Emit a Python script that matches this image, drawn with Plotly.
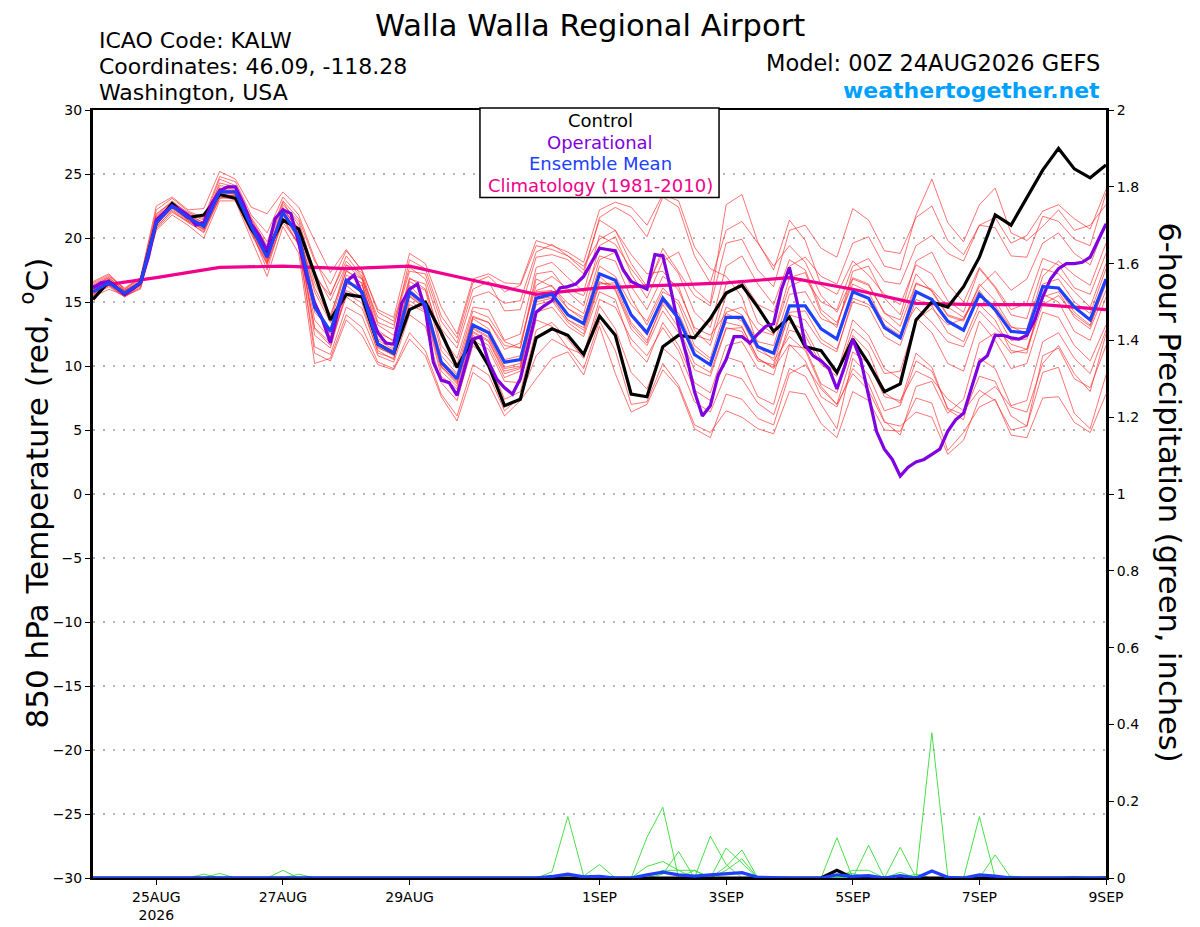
import pandas as pd
import plotly.graph_objects as go

# 예보 시각 (00Z 24AUG2026 GEFS, 6시간 간격 / 운영모델 3시간 간격)
run_start = "2026-08-24 00:00"
times = pd.date_range(run_start, periods=65, freq="6h")
times_op = pd.date_range(run_start, periods=129, freq="3h")
clim_days = pd.date_range(run_start, periods=17, freq="D")

tick_days = ["2026-08-25", "2026-08-27", "2026-08-29", "2026-09-01",
             "2026-09-03", "2026-09-05", "2026-09-07", "2026-09-09"]
tick_text = ["25AUG<br>2026", "27AUG", "29AUG", "1SEP", "3SEP", "5SEP", "7SEP", "9SEP"]

# 850 hPa 기온 (°C)
control = [15.2, 16.6, 15.6, 16.5, 21.2, 22.7, 21.6, 21.8, 23.4, 23.1, 20.7, 19.0, 21.4, 20.7, 17.2, 13.6,
           15.6, 15.4, 11.7, 11.0, 14.4, 15.0, 12.6, 9.9, 12.1, 10.0, 6.9, 7.4, 12.2, 12.9, 12.4, 10.9,
           13.9, 12.4, 7.8, 7.6, 11.5, 12.4, 12.2, 13.7, 15.7, 16.3, 14.6, 12.7, 13.8, 11.5, 11.2, 9.5,
           12.1, 10.2, 8.0, 8.6, 13.6, 15.0, 14.6, 16.2, 18.5, 21.8, 21.0, 23.1, 25.3, 27.0, 25.4, 24.7,
           25.7]

ens_mean = [15.8, 16.5, 15.7, 16.5, 21.2, 22.5, 21.6, 20.9, 23.6, 23.6, 20.9, 18.5, 22.0, 20.1, 14.6, 12.7,
            16.7, 15.8, 11.7, 11.0, 15.8, 14.8, 10.3, 9.0, 13.2, 12.6, 10.3, 10.5, 15.3, 15.6, 14.0, 13.3,
            17.2, 16.7, 14.0, 12.6, 15.3, 13.7, 10.9, 10.1, 13.8, 13.8, 11.5, 11.0, 14.7, 14.7, 12.9, 12.1,
            15.8, 15.3, 13.0, 12.2, 15.8, 15.2, 13.5, 12.8, 15.6, 14.4, 12.7, 12.6, 16.2, 16.1, 14.6, 13.6,
            16.8]

operational = [16.1, 16.5, 16.6, 16.1, 15.6, 16.0, 16.5, 18.5, 21.4, 22.0, 22.5, 22.2, 21.8, 21.0, 21.2, 22.7,
               23.7, 24.0, 24.0, 22.7, 21.1, 20.2, 19.0, 21.5, 22.2, 21.9, 19.6, 17.0, 14.9, 13.6, 11.8, 14.4,
               16.6, 17.1, 15.7, 14.2, 12.6, 11.8, 11.7, 14.9, 16.0, 16.4, 14.4, 10.3, 8.9, 8.7, 7.7, 10.0,
               12.1, 12.3, 10.3, 9.0, 8.3, 7.8, 9.0, 11.6, 14.2, 14.7, 15.1, 16.1, 16.2, 16.4, 17.0, 18.1,
               19.2, 19.1, 19.0, 17.5, 16.6, 16.3, 16.0, 18.7, 18.6, 16.0, 13.1, 10.8, 8.0, 6.1, 6.9, 9.3,
               10.5, 12.3, 12.3, 11.8, 12.5, 13.1, 13.3, 16.0, 17.7, 14.9, 11.6, 10.8, 10.4, 9.8, 8.2, 10.0,
               12.1, 10.5, 7.6, 4.9, 3.5, 2.7, 1.4, 2.1, 2.5, 2.7, 3.1, 3.5, 4.9, 5.8, 6.3, 8.4,
               10.3, 10.8, 12.4, 12.4, 12.2, 12.1, 12.4, 13.6, 15.4, 16.8, 17.6, 18.0, 18.0, 18.1, 18.5, 19.8,
               21.1]

climatology = [16.2, 16.9, 17.7, 17.8, 17.6, 17.8, 16.7, 15.6, 16.1, 16.3, 16.5, 16.9, 16.0, 14.9, 14.8, 14.8, 14.4]

# 앙상블 멤버 (가는 빨간 선)
m01 = [16.3, 16.9, 15.9, 16.7, 21.8, 22.9, 21.9, 21.4, 24.6, 24.1, 21.5, 19.4, 22.8, 21.0, 17.0, 15.5,
       18.6, 17.0, 13.2, 12.4, 16.9, 16.0, 12.3, 10.6, 14.6, 14.4, 12.0, 12.5, 17.7, 18.1, 16.9, 15.8,
       20.2, 19.5, 17.6, 16.0, 19.2, 17.4, 15.5, 14.7, 19.6, 19.9, 17.5, 16.2, 20.6, 21.0, 19.2, 18.5,
       22.3, 21.4, 19.0, 18.8, 21.6, 22.5, 19.8, 18.7, 21.0, 20.8, 18.6, 18.5, 21.7, 21.3, 19.9, 19.4, 23.5]
m02 = [15.5, 16.2, 15.4, 16.1, 20.7, 22.0, 21.3, 20.4, 23.1, 23.2, 20.5, 17.9, 21.5, 19.4, 11.5, 10.9,
       14.6, 13.9, 10.8, 10.3, 14.0, 13.1, 8.7, 7.3, 11.6, 10.5, 7.4, 8.0, 12.8, 13.4, 12.1, 10.6,
       14.7, 12.9, 9.5, 8.2, 11.4, 10.3, 7.2, 6.4, 9.4, 9.0, 7.1, 6.2, 9.8, 9.2, 7.0, 5.1,
       10.6, 9.3, 6.5, 6.9, 10.4, 9.6, 6.7, 6.2, 9.2, 8.8, 6.1, 5.3, 10.8, 11.4, 9.0, 8.3, 11.6]
m03 = [16.0, 16.7, 15.8, 16.6, 21.5, 22.6, 21.8, 21.2, 23.9, 23.5, 21.1, 18.9, 22.3, 20.6, 15.2, 12.2,
       16.4, 16.3, 12.5, 11.4, 16.6, 15.9, 11.2, 9.8, 13.9, 13.4, 11.6, 11.4, 16.8, 16.2, 14.9, 14.1,
       18.3, 18.9, 16.2, 14.4, 17.0, 16.2, 12.8, 11.6, 15.5, 16.6, 13.4, 12.5, 16.9, 17.3, 14.1, 13.0,
       17.4, 17.8, 15.3, 14.0, 18.2, 18.9, 16.4, 15.0, 17.7, 16.2, 14.4, 14.9, 18.4, 17.9, 16.1, 15.6, 18.8]
m04 = [15.6, 16.4, 15.6, 16.3, 21.0, 22.3, 21.4, 20.6, 23.3, 23.3, 20.7, 18.2, 21.8, 19.8, 12.4, 11.4,
       15.7, 14.9, 11.0, 10.6, 15.1, 14.3, 9.6, 8.4, 12.4, 11.6, 9.1, 9.6, 14.2, 14.6, 13.1, 12.3,
       15.8, 15.2, 11.6, 10.3, 13.4, 11.6, 8.7, 7.9, 11.6, 11.9, 9.8, 9.3, 13.4, 12.8, 10.5, 9.4,
       13.6, 12.4, 9.8, 9.0, 13.8, 12.6, 10.2, 9.6, 13.5, 12.0, 9.8, 10.2, 14.2, 13.8, 11.6, 10.4, 13.2]
m05 = [16.5, 17.1, 16.0, 16.8, 22.2, 23.1, 22.1, 21.6, 24.8, 24.4, 21.8, 20.4, 23.2, 21.8, 18.4, 15.6,
       18.2, 16.9, 13.8, 13.2, 17.4, 17.2, 13.5, 11.8, 16.0, 16.6, 14.3, 14.4, 18.5, 18.7, 18.3, 17.2,
       21.6, 22.4, 21.7, 20.1, 23.2, 22.4, 18.6, 16.5, 20.6, 21.3, 19.6, 17.8, 19.4, 18.1, 15.5, 14.2,
       16.9, 16.4, 14.1, 13.6, 17.2, 15.8, 13.9, 13.5, 16.4, 15.1, 13.1, 12.5, 16.4, 16.8, 15.0, 14.1, 17.6]
m06 = [15.4, 16.0, 15.5, 16.0, 20.6, 21.8, 21.0, 20.0, 22.9, 22.9, 19.9, 17.0, 20.9, 18.8, 10.2, 10.6,
       14.0, 13.0, 10.3, 9.8, 12.6, 11.2, 7.8, 6.1, 10.1, 9.3, 6.5, 7.6, 10.8, 12.1, 11.4, 9.8,
       13.5, 11.2, 7.0, 7.2, 10.2, 8.5, 5.4, 4.8, 6.5, 6.0, 5.1, 4.7, 8.0, 7.8, 5.5, 4.4,
       8.0, 7.3, 5.0, 4.9, 7.5, 7.1, 3.4, 4.8, 6.8, 7.4, 4.6, 4.4, 7.5, 7.6, 5.6, 4.8, 7.8]
m07 = [16.2, 16.8, 15.9, 16.5, 21.3, 22.7, 21.7, 21.0, 23.9, 23.8, 21.2, 18.7, 22.1, 20.3, 14.2, 12.9,
       17.1, 16.5, 12.1, 11.7, 16.3, 15.0, 10.8, 9.4, 13.7, 12.9, 10.5, 10.8, 15.8, 15.9, 14.5, 13.8,
       17.0, 15.9, 12.9, 11.6, 14.3, 12.6, 9.7, 9.2, 12.9, 13.0, 10.6, 9.9, 12.8, 12.4, 10.1, 9.2,
       12.9, 11.8, 9.4, 9.6, 13.6, 14.5, 13.2, 13.7, 16.2, 17.4, 15.9, 16.8, 19.6, 20.4, 18.8, 17.9, 21.2]
m08 = [15.9, 16.6, 15.6, 16.4, 21.0, 22.4, 21.5, 20.9, 23.5, 23.6, 20.8, 18.6, 22.0, 20.4, 15.8, 13.4,
       17.5, 16.4, 12.0, 11.3, 16.0, 14.9, 10.4, 9.3, 13.0, 12.3, 9.9, 10.2, 15.9, 16.3, 14.5, 13.6,
       17.8, 17.0, 14.8, 13.5, 16.1, 14.8, 11.6, 10.6, 14.6, 14.0, 11.9, 11.6, 15.6, 15.8, 13.7, 13.2,
       16.8, 16.3, 14.2, 13.1, 16.5, 15.9, 14.0, 13.6, 15.9, 14.2, 12.0, 12.1, 16.3, 16.0, 14.2, 13.2, 16.4]
m09 = [16.1, 16.6, 15.7, 16.6, 21.6, 22.7, 21.6, 21.0, 23.6, 23.4, 21.0, 18.4, 22.2, 20.8, 16.5, 14.0,
       17.4, 16.8, 12.6, 12.0, 15.7, 14.8, 10.1, 9.1, 13.8, 13.4, 11.3, 11.8, 16.3, 17.0, 16.0, 15.5,
       18.6, 18.2, 15.3, 13.2, 15.8, 15.1, 12.4, 12.0, 16.4, 16.7, 14.8, 14.2, 17.8, 18.5, 17.0, 16.4,
       19.6, 20.1, 17.8, 17.5, 21.8, 24.6, 21.2, 19.7, 22.6, 23.9, 20.4, 19.8, 20.9, 22.2, 20.6, 21.0, 22.6]
m10 = [15.5, 16.3, 15.4, 16.2, 20.9, 22.1, 21.2, 20.5, 23.2, 23.0, 20.3, 18.0, 21.2, 19.6, 13.0, 11.8,
       15.4, 14.5, 11.2, 10.5, 14.8, 14.2, 9.2, 8.2, 12.0, 11.3, 8.8, 8.7, 13.6, 13.1, 11.4, 10.9,
       15.2, 14.6, 12.1, 10.8, 13.0, 11.2, 8.1, 7.3, 10.7, 10.3, 7.6, 7.0, 11.6, 11.4, 8.6, 7.9,
       12.4, 11.1, 7.9, 7.1, 11.0, 9.9, 6.6, 5.8, 10.6, 9.8, 6.9, 7.3, 11.9, 12.6, 10.6, 9.4, 12.8]
m11 = [16.4, 17.0, 16.1, 16.9, 21.9, 22.8, 22.0, 21.5, 24.1, 23.9, 21.4, 19.2, 22.6, 21.3, 17.3, 15.1,
       17.9, 17.3, 13.4, 12.9, 18.3, 17.6, 13.9, 12.2, 16.5, 17.0, 15.8, 16.3, 19.4, 19.1, 18.6, 17.8,
       19.9, 20.6, 18.7, 17.2, 17.4, 15.9, 13.0, 12.4, 14.1, 13.5, 11.2, 10.6, 14.0, 13.6, 11.8, 11.1,
       15.3, 14.8, 13.6, 12.6, 14.6, 13.4, 11.9, 11.5, 14.3, 13.0, 11.7, 11.3, 15.4, 15.8, 13.8, 12.9, 15.9]
m12 = [15.7, 16.3, 15.5, 16.3, 20.8, 22.2, 21.3, 20.7, 23.1, 23.4, 20.6, 17.5, 21.6, 19.5, 11.0, 10.4,
       13.6, 12.4, 10.1, 9.7, 12.1, 10.8, 7.6, 5.7, 9.5, 8.6, 6.1, 7.3, 9.0, 10.6, 11.1, 9.3,
       13.1, 9.4, 6.4, 7.0, 9.7, 8.3, 5.1, 4.4, 7.8, 7.4, 5.9, 5.4, 9.4, 10.1, 8.2, 7.0,
       11.1, 10.2, 7.6, 7.3, 9.6, 9.0, 7.4, 6.5, 8.1, 7.3, 5.0, 5.3, 9.5, 9.9, 6.3, 5.1, 9.3]
m13 = [16.0, 16.5, 15.8, 16.5, 21.4, 22.6, 21.7, 21.1, 23.7, 23.7, 21.1, 18.8, 22.4, 20.4, 16.1, 13.7,
       17.9, 16.8, 12.8, 11.9, 16.8, 16.4, 11.6, 10.1, 14.3, 13.8, 11.9, 11.4, 17.2, 17.4, 15.8, 14.7,
       19.4, 20.1, 17.2, 15.3, 18.2, 18.9, 16.0, 14.9, 22.6, 23.4, 19.7, 17.5, 21.4, 19.8, 16.3, 15.6,
       18.2, 17.1, 15.6, 14.8, 17.9, 17.2, 15.1, 14.2, 17.6, 16.1, 14.0, 13.7, 17.6, 17.2, 15.8, 14.6, 18.0]
m14 = [15.8, 16.4, 15.6, 16.5, 21.1, 22.4, 21.5, 20.8, 23.4, 23.5, 20.9, 18.3, 21.8, 20.0, 13.6, 12.1,
       16.3, 15.3, 11.5, 10.8, 15.6, 14.6, 10.0, 8.7, 12.7, 12.0, 9.6, 9.9, 15.0, 15.3, 13.6, 12.8,
       16.5, 16.3, 13.4, 12.0, 14.8, 13.0, 10.2, 9.5, 13.0, 12.7, 10.4, 10.1, 14.2, 14.3, 12.1, 11.3,
       15.0, 14.6, 12.3, 11.6, 15.2, 14.7, 12.6, 11.9, 14.8, 13.6, 11.2, 11.0, 15.6, 15.0, 12.7, 12.0, 15.4]
m15 = [16.6, 17.2, 16.0, 16.9, 22.5, 23.2, 22.2, 22.3, 25.2, 24.6, 22.4, 21.9, 23.6, 22.4, 19.8, 17.3,
       19.1, 17.4, 14.4, 13.8, 18.8, 18.0, 14.6, 12.5, 16.8, 17.2, 16.5, 16.4, 19.8, 19.4, 18.9, 18.1,
       22.2, 22.8, 22.4, 21.0, 23.4, 22.9, 19.3, 17.6, 17.0, 15.4, 11.6, 10.4, 12.3, 11.2, 8.4, 7.0,
       9.4, 8.1, 5.6, 5.3, 6.4, 6.0, 3.1, 4.2, 7.5, 8.4, 6.8, 6.4, 10.2, 11.6, 9.4, 8.0, 12.5]
m16 = [15.9, 16.7, 15.8, 16.4, 21.2, 22.5, 21.6, 21.0, 23.8, 23.7, 21.0, 18.6, 22.1, 20.2, 14.8, 12.5,
       16.5, 15.9, 11.8, 11.2, 15.5, 14.4, 10.0, 8.8, 12.9, 12.2, 9.8, 10.0, 15.2, 15.4, 13.6, 13.0,
       16.6, 16.0, 13.2, 11.8, 15.0, 13.6, 10.8, 10.2, 14.2, 14.6, 12.8, 12.4, 16.2, 16.8, 15.0, 14.4,
       17.8, 18.4, 16.6, 16.4, 19.4, 20.2, 18.8, 18.2, 21.0, 21.6, 19.6, 20.2, 22.1, 22.6, 21.5, 20.7, 23.8]
m17 = [15.6, 16.4, 15.6, 16.4, 21.1, 22.4, 21.4, 20.7, 23.4, 23.3, 20.6, 18.1, 21.9, 19.9, 12.9, 11.6,
       15.9, 15.3, 11.4, 10.9, 15.4, 14.6, 9.9, 8.6, 12.6, 11.9, 9.4, 9.8, 14.8, 15.1, 13.4, 12.5,
       16.4, 16.5, 13.9, 12.4, 15.4, 14.1, 11.3, 10.4, 13.4, 13.1, 10.6, 9.8, 11.7, 10.4, 7.6, 6.8,
       9.8, 8.6, 5.7, 4.6, 8.4, 8.8, 6.3, 7.4, 11.8, 12.6, 11.0, 11.3, 14.8, 15.5, 14.0, 13.1, 16.6]
m18 = [16.2, 16.9, 15.9, 16.6, 21.7, 22.8, 21.8, 21.2, 24.3, 24.0, 21.6, 19.7, 22.9, 21.5, 18.2, 16.4,
       19.0, 17.5, 14.2, 13.5, 17.7, 16.8, 12.9, 11.4, 15.4, 15.8, 14.9, 15.1, 18.9, 19.5, 18.6, 17.5,
       21.4, 20.6, 18.0, 16.2, 18.8, 17.2, 14.2, 13.0, 17.8, 18.6, 16.4, 14.8, 18.3, 17.5, 14.4, 13.4,
       16.4, 15.8, 13.2, 12.4, 16.4, 16.0, 14.6, 13.8, 15.6, 14.7, 13.0, 12.9, 17.0, 18.2, 17.1, 16.3, 19.6]
members = [m01, m02, m03, m04, m05, m06, m07, m08, m09, m10, m11, m12, m13, m14, m15, m16, m17, m18]

# 6시간 강수량 (inches)
p01 = [0, 0, 0, 0, 0, 0, 0, 0, 0.012, 0, 0, 0, 0,
       0, 0, 0, 0, 0, 0, 0, 0, 0, 0, 0, 0, 0,
       0, 0, 0, 0.016, 0.16, 0.005, 0.035, 0, 0, 0, 0, 0, 0,
       0, 0, 0, 0, 0, 0, 0, 0, 0.02, 0, 0, 0, 0,
       0, 0.378, 0.005, 0, 0, 0, 0, 0, 0, 0, 0, 0, 0]
p02 = [0, 0, 0, 0, 0, 0, 0, 0, 0, 0, 0, 0, 0.02,
       0, 0, 0, 0, 0, 0, 0, 0, 0, 0, 0, 0, 0,
       0, 0, 0, 0, 0, 0, 0, 0, 0, 0.106, 0.184, 0, 0,
       0, 0, 0, 0, 0, 0, 0, 0, 0.105, 0, 0, 0, 0,
       0, 0, 0, 0, 0.16, 0, 0, 0, 0, 0, 0, 0, 0]
p03 = [0, 0, 0, 0, 0, 0, 0, 0, 0, 0, 0, 0, 0,
       0, 0, 0, 0, 0, 0, 0, 0, 0, 0, 0, 0, 0,
       0, 0, 0, 0, 0, 0, 0, 0, 0, 0.03, 0.043, 0.02, 0.02,
       0, 0, 0, 0, 0, 0, 0, 0, 0, 0, 0.085, 0, 0,
       0, 0, 0, 0, 0, 0.06, 0, 0, 0, 0, 0, 0, 0]
p04 = [0, 0, 0, 0, 0, 0, 0, 0, 0, 0, 0, 0, 0,
       0, 0, 0, 0, 0, 0, 0, 0, 0, 0, 0, 0, 0,
       0, 0, 0, 0, 0, 0, 0, 0, 0, 0, 0.01, 0.069, 0,
       0.109, 0.035, 0, 0, 0, 0, 0, 0, 0, 0, 0, 0, 0.08,
       0, 0, 0, 0, 0, 0, 0, 0, 0, 0, 0, 0, 0]
p05 = [0, 0, 0, 0, 0, 0, 0, 0, 0, 0, 0, 0, 0,
       0, 0, 0, 0, 0, 0, 0, 0, 0, 0, 0, 0, 0,
       0, 0, 0, 0, 0, 0, 0, 0, 0, 0, 0, 0, 0,
       0, 0.078, 0.04, 0, 0, 0, 0, 0, 0, 0.02, 0.02, 0, 0.015,
       0, 0, 0, 0, 0, 0, 0, 0, 0, 0, 0.004, 0, 0]
p06 = [0, 0, 0, 0, 0, 0, 0, 0.01, 0, 0, 0, 0, 0,
       0.01, 0, 0, 0, 0, 0, 0, 0, 0, 0, 0, 0, 0,
       0, 0, 0, 0, 0, 0, 0, 0, 0, 0, 0, 0, 0.02,
       0, 0.03, 0.073, 0, 0, 0, 0, 0, 0, 0, 0, 0, 0,
       0, 0, 0, 0, 0, 0, 0, 0, 0, 0, 0, 0, 0]
p07 = [0, 0, 0, 0, 0, 0, 0, 0, 0, 0, 0, 0, 0,
       0, 0, 0, 0, 0, 0, 0, 0, 0, 0, 0, 0, 0,
       0, 0, 0, 0, 0, 0, 0, 0, 0, 0, 0, 0, 0,
       0, 0.02, 0.05, 0, 0, 0, 0, 0, 0, 0, 0, 0, 0,
       0, 0, 0, 0, 0, 0, 0.005, 0, 0, 0, 0, 0, 0.004]
p08 = [0, 0, 0, 0, 0, 0, 0, 0, 0, 0, 0, 0, 0,
       0, 0, 0, 0, 0, 0, 0, 0, 0, 0, 0, 0, 0,
       0, 0, 0, 0, 0, 0, 0, 0, 0, 0, 0.02, 0.02, 0,
       0, 0, 0, 0, 0, 0, 0, 0, 0.01, 0.012, 0, 0, 0,
       0.01, 0, 0, 0, 0, 0, 0, 0, 0, 0, 0, 0, 0]
precip_members = [p01, p02, p03, p04, p05, p06, p07, p08]

precip_mean = [0, 0, 0, 0, 0, 0, 0, 0, 0.002, 0, 0, 0, 0.002,
               0, 0, 0, 0, 0, 0, 0, 0, 0, 0, 0, 0, 0,
               0, 0, 0, 0.004, 0.01, 0.003, 0.004, 0, 0, 0.008, 0.015, 0.008, 0.005,
               0.008, 0.012, 0.014, 0.002, 0, 0, 0, 0, 0.008, 0.004, 0.006, 0, 0.006,
               0, 0.018, 0.002, 0, 0.008, 0.005, 0, 0, 0, 0, 0, 0, 0]
precip_control = [0, 0, 0, 0, 0, 0, 0, 0, 0, 0, 0, 0, 0,
                  0, 0, 0, 0, 0, 0, 0, 0, 0, 0, 0, 0, 0,
                  0, 0, 0, 0, 0, 0, 0, 0, 0, 0, 0, 0, 0,
                  0, 0, 0, 0, 0, 0, 0, 0, 0.02, 0, 0, 0, 0,
                  0, 0, 0, 0, 0, 0, 0, 0, 0, 0, 0, 0, 0]

FONT = "DejaVu Sans"
C_CTRL = "#000000"
C_OPER = "#8000e0"
C_MEAN = "#2040ff"
C_CLIM = "#f0008c"

fig = go.Figure()

for m in members:
    fig.add_trace(go.Scatter(x=times, y=m, mode="lines", yaxis="y",
                             line=dict(color="rgba(255,40,40,0.72)", width=0.9), hoverinfo="skip"))

fig.add_trace(go.Scatter(x=clim_days, y=climatology, mode="lines", line=dict(color=C_CLIM, width=3.2)))
fig.add_trace(go.Scatter(x=times, y=control, mode="lines", line=dict(color=C_CTRL, width=3.2)))
fig.add_trace(go.Scatter(x=times_op, y=operational, mode="lines", line=dict(color=C_OPER, width=3.2)))
fig.add_trace(go.Scatter(x=times, y=ens_mean, mode="lines", line=dict(color=C_MEAN, width=3.2)))

for p in precip_members:
    fig.add_trace(go.Scatter(x=times, y=p, mode="lines", yaxis="y2",
                             line=dict(color="#33dd33", width=0.9), hoverinfo="skip"))
fig.add_trace(go.Scatter(x=times, y=precip_control, mode="lines", yaxis="y2", line=dict(color=C_CTRL, width=3.2)))
fig.add_trace(go.Scatter(x=times, y=precip_mean, mode="lines", yaxis="y2", line=dict(color=C_MEAN, width=3.2)))

# 페이지 여백(8px) 만큼 보정한 여백
fig.update_layout(
    width=1200, height=927,
    margin=dict(l=85, r=102, t=102, b=52),
    paper_bgcolor="white", plot_bgcolor="white",
    showlegend=False,
    font=dict(family=FONT, size=14, color="black"),
    xaxis=dict(range=[times[0], times[-1]], tickvals=tick_days, ticktext=tick_text,
               showgrid=False, zeroline=False, showline=True, linecolor="black", linewidth=2, mirror=True,
               ticks="outside", ticklen=5, tickcolor="black", tickfont=dict(size=14)),
    yaxis=dict(range=[-30, 30], dtick=5, showgrid=True, gridcolor="#b4b4b4", gridwidth=1.5,
               griddash="2px,8px", zeroline=False, showline=True, linecolor="black", linewidth=3,
               ticks="outside", ticklen=5, tickcolor="black", tickfont=dict(size=14)),
    yaxis2=dict(range=[0, 2], dtick=0.2, overlaying="y", side="right", showgrid=False, zeroline=False,
                showline=True, linecolor="black", linewidth=3, ticks="outside", ticklen=5,
                tickcolor="black", tickfont=dict(size=14)),
)

# 범례 상자
fig.add_shape(type="rect", xref="paper", yref="paper", x0=0.382, x1=0.618, y0=0.886, y1=1.0026,
              fillcolor="white", line=dict(color="black", width=1.5), layer="above")
legend_items = [("Control", C_CTRL), ("Operational", C_OPER), ("Ensemble Mean", C_MEAN),
                ("Climatology (1981-2010)", C_CLIM)]
legend_y = [0.986, 0.958, 0.930, 0.902]
for (txt, col), yy in zip(legend_items, legend_y):
    fig.add_annotation(text=txt, xref="paper", yref="paper", x=0.5005, y=yy, showarrow=False,
                       xanchor="center", yanchor="middle", font=dict(family=FONT, size=18, color=col))

# 제목 및 텍스트
fig.add_annotation(text="Walla Walla Regional Airport", xref="paper", yref="paper", x=0.491, y=1.1355,
                   showarrow=False, xanchor="center", yanchor="top", font=dict(family=FONT, size=30.5))
left_lines = ["ICAO Code: KALW", "Coordinates: 46.09, -118.28", "Washington, USA"]
for txt, yy in zip(left_lines, [1.0906, 1.0569, 1.0233]):
    fig.add_annotation(text=txt, xref="paper", yref="paper", x=0.004, y=yy, showarrow=False,
                       xanchor="left", yanchor="middle", font=dict(family=FONT, size=22))
fig.add_annotation(text="Model: 00Z 24AUG2026 GEFS", xref="paper", yref="paper", x=0.9965, y=1.0608,
                   showarrow=False, xanchor="right", yanchor="middle", font=dict(family=FONT, size=22.5))
fig.add_annotation(text="<b>weathertogether.net</b>", xref="paper", yref="paper", x=0.9965, y=1.0259,
                   showarrow=False, xanchor="right", yanchor="middle",
                   font=dict(family=FONT, size=22, color="#00a0ff"))

# 축 제목
fig.add_annotation(text="850 hPa Temperature (red, <sup>o</sup>C)", xref="paper", yref="paper",
                   x=-0.0573, y=0.502, showarrow=False, textangle=-90, xanchor="center", yanchor="middle",
                   font=dict(family=FONT, size=31))
fig.add_annotation(text="6-hour Precipitation (green, inches)", xref="paper", yref="paper",
                   x=1.0632, y=0.502, showarrow=False, textangle=90, xanchor="center", yanchor="middle",
                   font=dict(family=FONT, size=30.5))

fig.write_html("out.html")
